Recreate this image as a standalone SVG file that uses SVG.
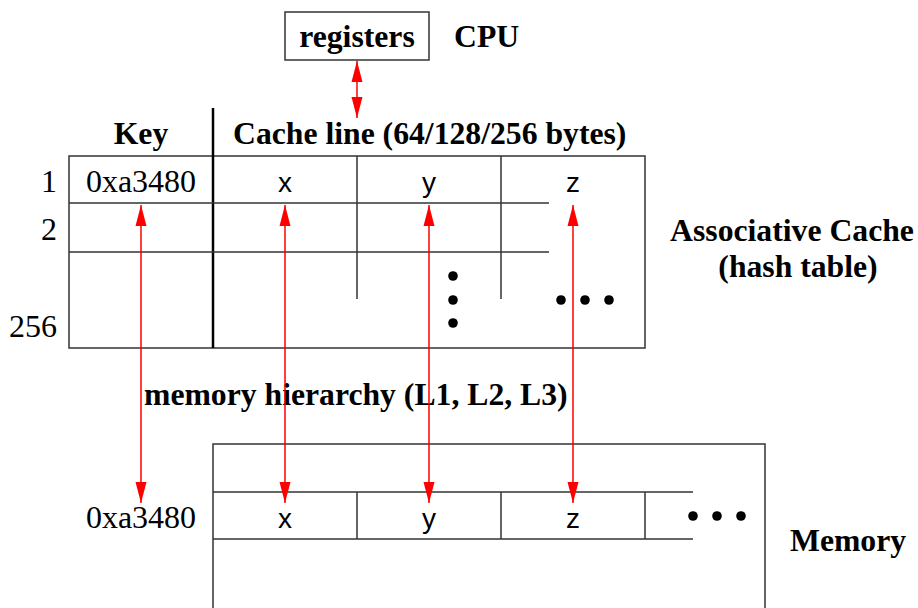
<svg xmlns="http://www.w3.org/2000/svg" width="918" height="608" viewBox="0 0 918 608">
<style>
.ln{stroke:#333;stroke-width:1.5;fill:none}
.thick{stroke:#000;stroke-width:2.5;fill:none}
.b{font-family:"Liberation Serif","Times New Roman",serif;font-weight:bold;font-size:31.7px;fill:#000}
.r{font-family:"Liberation Serif","Times New Roman",serif;font-size:32px;fill:#000}
.s{font-family:"Liberation Sans",Arial,sans-serif;font-size:28px;fill:#000;text-anchor:middle}
.m{text-anchor:middle}
.e{text-anchor:end}
.arr{stroke:#ff0000;stroke-width:1.5;fill:none;marker-start:url(#ah);marker-end:url(#ah)}
.dot{fill:#000}
</style>
<defs>
<marker id="ah" markerUnits="userSpaceOnUse" markerWidth="22" markerHeight="12" refX="21" refY="6" orient="auto-start-reverse">
<path d="M0,0.5 L21,6 L0,11.5 z" fill="#ff0000"/>
</marker>
</defs>
<g id="cpu">
<rect x="285" y="12" width="144" height="48" class="ln"/>
<text x="357" y="47" class="b m">registers</text>
<text x="454" y="47" class="b">CPU</text>
</g>
<g id="cache">
<rect x="69" y="156" width="576" height="192" class="ln"/>
<line x1="213" y1="108" x2="213" y2="348" class="thick"/>
<line x1="69" y1="203" x2="549" y2="203" class="ln"/>
<line x1="69" y1="252" x2="549" y2="252" class="ln"/>
<line x1="357" y1="156" x2="357" y2="299" class="ln"/>
<line x1="501" y1="156" x2="501" y2="299" class="ln"/>
<text x="141" y="144" class="b m">Key</text>
<text x="233" y="144" class="b">Cache line (64/128/256 bytes)</text>
<text x="57" y="192" class="r e">1</text>
<text x="57" y="240" class="r e">2</text>
<text x="57" y="337" class="r e">256</text>
<text x="141" y="192" class="r m">0xa3480</text>
<text x="285" y="192" class="s">x</text>
<text x="429" y="192" class="s">y</text>
<text x="573" y="192" class="s">z</text>
<circle cx="453" cy="276" r="4.8" class="dot"/>
<circle cx="453" cy="300" r="4.8" class="dot"/>
<circle cx="453" cy="323" r="4.8" class="dot"/>
<circle cx="561" cy="300" r="4.8" class="dot"/>
<circle cx="585" cy="300" r="4.8" class="dot"/>
<circle cx="609" cy="300" r="4.8" class="dot"/>
<text x="792" y="241" class="b m">Associative Cache</text>
<text x="798" y="277" class="b m">(hash table)</text>
</g>
<g id="hierarchy-label">
<text x="144" y="405" class="b">memory hierarchy (L1, L2, L3)</text>
</g>
<g id="memory">
<polyline points="213,620 213,444 765,444 765,620" class="ln"/>
<line x1="213" y1="492" x2="693" y2="492" class="ln"/>
<line x1="213" y1="539" x2="693" y2="539" class="ln"/>
<line x1="357" y1="492" x2="357" y2="539" class="ln"/>
<line x1="501" y1="492" x2="501" y2="539" class="ln"/>
<line x1="645" y1="492" x2="645" y2="539" class="ln"/>
<text x="141" y="528" class="r m">0xa3480</text>
<text x="285" y="528" class="s">x</text>
<text x="429" y="528" class="s">y</text>
<text x="573" y="528" class="s">z</text>
<circle cx="693" cy="516" r="4.8" class="dot"/>
<circle cx="717" cy="516" r="4.8" class="dot"/>
<circle cx="741" cy="516" r="4.8" class="dot"/>
<text x="790" y="551" class="b">Memory</text>
</g>
<g id="connectors">
<line x1="357" y1="61" x2="357" y2="118" class="arr"/>
<line x1="141" y1="205" x2="141" y2="503" class="arr"/>
<line x1="285" y1="205" x2="285" y2="503" class="arr"/>
<line x1="429" y1="205" x2="429" y2="503" class="arr"/>
<line x1="573" y1="205" x2="573" y2="503" class="arr"/>
</g>
</svg>
